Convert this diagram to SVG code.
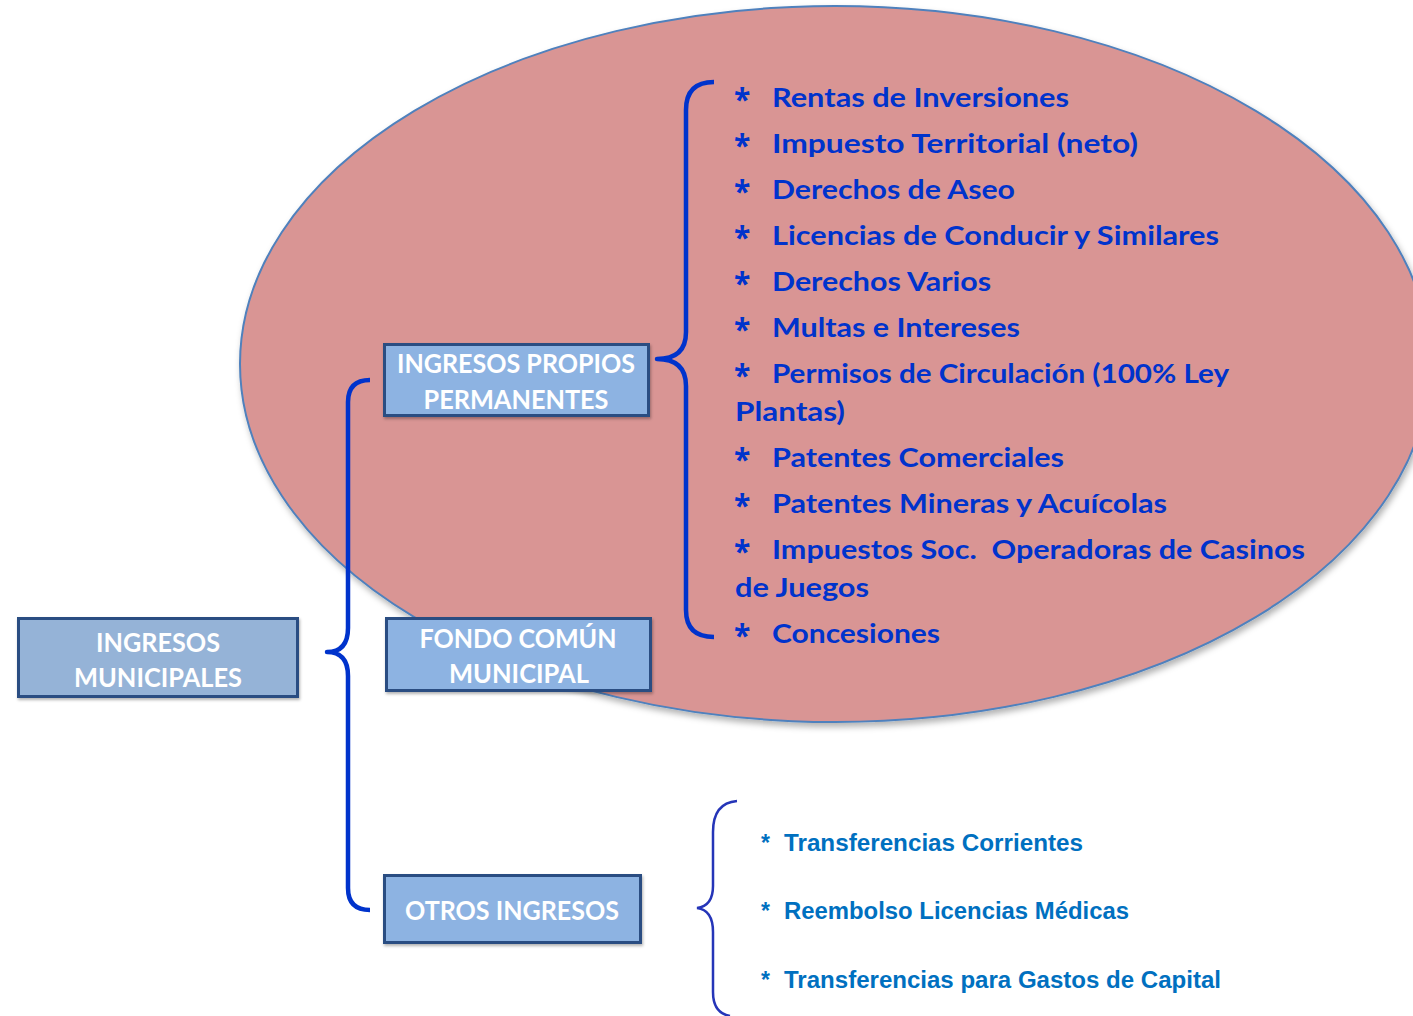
<svg xmlns="http://www.w3.org/2000/svg" width="1413" height="1016" viewBox="0 0 1413 1016">
<defs>
<filter id="sh" x="-10%" y="-10%" width="120%" height="125%">
<feDropShadow dx="2" dy="4" stdDeviation="3" flood-color="#000" flood-opacity="0.3"/>
</filter>
<filter id="bsh" x="-10%" y="-10%" width="120%" height="130%">
<feDropShadow dx="1" dy="2" stdDeviation="1.5" flood-color="#000" flood-opacity="0.3"/>
</filter>
</defs>
<style>
.box{stroke:#2B4E82;stroke-width:3;filter:url(#bsh)}
.bt{font-family:Lato,"Open Sans","Liberation Sans",sans-serif;font-weight:bold;font-size:27px;fill:#fff;text-anchor:middle}
.it{font-family:Lato,"Open Sans","Liberation Sans",sans-serif;font-weight:bold;font-size:26px;fill:#0033CC}
.ast{font-family:"Open Sans","Liberation Sans",sans-serif;font-weight:bold;font-size:30px;fill:#0033CC}
.it2{font-family:"Liberation Sans",Arial,sans-serif;font-weight:bold;font-size:23px;fill:#0070C0}
.br{fill:none;stroke:#0033CC;stroke-width:4.5;stroke-linecap:butt;stroke-linejoin:round}
.br2{fill:none;stroke:#2535B8;stroke-width:2.5}
</style>
<rect width="1413" height="1016" fill="#fff"/>
<g id="ellipse">
<ellipse cx="835" cy="364" rx="595" ry="358" fill="#D99594" stroke="#4F81BD" stroke-width="2" filter="url(#sh)"/>
</g>
<g id="connectors">
<path class="br" d="M370 380 Q348 380 348 402 L348 628 Q348 652 327 652 Q348 652 348 676 L348 888 Q348 910 370 910"/>
<path class="br" d="M714 82 Q686 82 686 110 L686 332 Q686 359 657 359 Q686 359 686 386 L686 610 Q686 637 714 637"/>
<path class="br2" d="M737 801 Q713 803 713 832 L713 886 Q713 906 697 908 Q713 910 713 932 L713 992 Q713 1013 730 1016"/>
</g>
<g id="n-ingresos-municipales">
<rect class="box" x="18.5" y="618.5" width="279" height="78" fill="#95B3D7"/>
<text class="bt" x="158" y="652" textLength="124" lengthAdjust="spacingAndGlyphs">INGRESOS</text>
<text class="bt" x="158" y="687" textLength="168" lengthAdjust="spacingAndGlyphs">MUNICIPALES</text>
</g>
<g id="n-propios">
<rect class="box" x="384.5" y="344.5" width="264" height="71" fill="#8DB3E2"/>
<text class="bt" x="516" y="373" textLength="238" lengthAdjust="spacingAndGlyphs">INGRESOS PROPIOS</text>
<text class="bt" x="516" y="409" textLength="185" lengthAdjust="spacingAndGlyphs">PERMANENTES</text>
</g>
<g id="n-fondo">
<rect class="box" x="386.5" y="618.5" width="264" height="72" fill="#8DB3E2"/>
<text class="bt" x="518" y="648" textLength="197" lengthAdjust="spacingAndGlyphs">FONDO COMÚN</text>
<text class="bt" x="519" y="683" textLength="140" lengthAdjust="spacingAndGlyphs">MUNICIPAL</text>
</g>
<g id="n-otros">
<rect class="box" x="384.5" y="875.5" width="256" height="67" fill="#8DB3E2"/>
<text class="bt" x="512" y="920" textLength="214" lengthAdjust="spacingAndGlyphs">OTROS INGRESOS</text>
</g>
<g id="list-propios">
<text class="ast" x="734" y="110">*</text>
<text class="it" x="772" y="107" textLength="297" lengthAdjust="spacingAndGlyphs">Rentas de Inversiones</text>
<text class="ast" x="734" y="156">*</text>
<text class="it" x="772" y="153" textLength="366" lengthAdjust="spacingAndGlyphs">Impuesto Territorial (neto)</text>
<text class="ast" x="734" y="202">*</text>
<text class="it" x="772" y="199" textLength="243" lengthAdjust="spacingAndGlyphs">Derechos de Aseo</text>
<text class="ast" x="734" y="248">*</text>
<text class="it" x="772" y="245" textLength="447" lengthAdjust="spacingAndGlyphs">Licencias de Conducir y Similares</text>
<text class="ast" x="734" y="294">*</text>
<text class="it" x="772" y="291" textLength="219" lengthAdjust="spacingAndGlyphs">Derechos Varios</text>
<text class="ast" x="734" y="340">*</text>
<text class="it" x="772" y="337" textLength="248" lengthAdjust="spacingAndGlyphs">Multas e Intereses</text>
<text class="ast" x="734" y="386">*</text>
<text class="it" x="772" y="383" textLength="457" lengthAdjust="spacingAndGlyphs">Permisos de Circulación (100% Ley</text>
<text class="it" x="735" y="421" textLength="110" lengthAdjust="spacingAndGlyphs">Plantas)</text>
<text class="ast" x="734" y="470">*</text>
<text class="it" x="772" y="467" textLength="292" lengthAdjust="spacingAndGlyphs">Patentes Comerciales</text>
<text class="ast" x="734" y="516">*</text>
<text class="it" x="772" y="513" textLength="395" lengthAdjust="spacingAndGlyphs">Patentes Mineras y Acuícolas</text>
<text class="ast" x="734" y="562">*</text>
<text class="it" x="772" y="559" textLength="533" lengthAdjust="spacingAndGlyphs" xml:space="preserve">Impuestos Soc.  Operadoras de Casinos</text>
<text class="it" x="735" y="597" textLength="134" lengthAdjust="spacingAndGlyphs">de Juegos</text>
<text class="ast" x="734" y="646">*</text>
<text class="it" x="772" y="643" textLength="168" lengthAdjust="spacingAndGlyphs">Concesiones</text>
</g>
<g id="list-otros">
<text class="it2" x="761" y="851">*</text>
<text class="it2" x="784" y="851" textLength="299" lengthAdjust="spacingAndGlyphs">Transferencias Corrientes</text>
<text class="it2" x="761" y="919">*</text>
<text class="it2" x="784" y="919" textLength="345" lengthAdjust="spacingAndGlyphs">Reembolso Licencias Médicas</text>
<text class="it2" x="761" y="988">*</text>
<text class="it2" x="784" y="988" textLength="437" lengthAdjust="spacingAndGlyphs">Transferencias para Gastos de Capital</text>
</g>
</svg>
